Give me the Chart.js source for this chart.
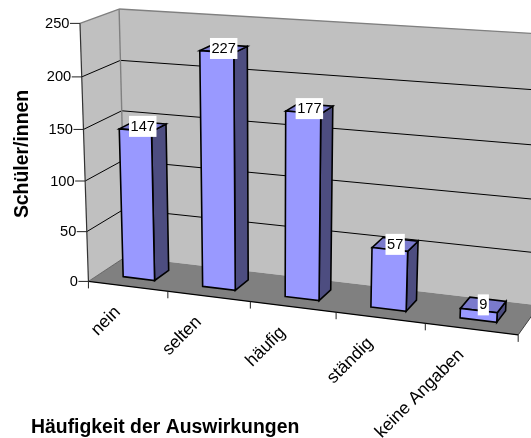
<!DOCTYPE html>
<html><head><meta charset="utf-8">
<style>html,body{margin:0;padding:0;background:#fff}canvas{display:block}</style>
<script src="https://cdn.jsdelivr.net/npm/chart.js@4"></script>
</head><body><canvas id="c" width="531" height="438"></canvas>
<script>
const categories = ["nein","selten","häufig","ständig","keine Angaben"];
const values = [147,227,177,57,9];
const valueTicks = [0,50,100,150,200,250];
const yTitle = "Schüler/innen";
const xTitle = "Häufigkeit der Auswirkungen";

// Camera of the 3D look: [along x, up y, depth] fractions of the plot box -> picture position
const CAMERA_FIT = [
 [0,0,0,89,281],[1,0,0,518,336],[0,1,0,79,23],
 [0,0,1,124,258],[1,0,1,539.5,304],[0,1,1,120,9],[1,1,1,552.5,35],
 [0.06,0,0.3,124,276],[0.46,0,0.3,285,296.7],[0.46,0.708,0.3,285,111],[0.06,0.588,0.3,120,129]
];
const DEPTH_FRONT = 0.3, DEPTH_BACK = 0.7;
function solveCamera(pts){
  const n=11,A=Array.from({length:n},()=>new Array(n+1).fill(0));
  const add=(r,b)=>{for(let i=0;i<n;i++){for(let j=0;j<n;j++)A[i][j]+=r[i]*r[j];A[i][n]+=r[i]*b;}};
  pts.forEach(([u,v,w,x,y])=>{x/=500;y/=500;
    add([u,v,w,1,0,0,0,0,-x*u,-x*v,-x*w],x);
    add([0,0,0,0,u,v,w,1,-y*u,-y*v,-y*w],y);});
  for(let c=0;c<n;c++){let p=c;for(let r=c+1;r<n;r++)if(Math.abs(A[r][c])>Math.abs(A[p][c]))p=r;
    [A[c],A[p]]=[A[p],A[c]];
    for(let r=0;r<n;r++)if(r!==c){const f=A[r][c]/A[c][c];for(let k=c;k<=n;k++)A[r][k]-=f*A[c][k];}}
  return A.map((r,i)=>r[n]/r[i]);
}
const M=solveCamera(CAMERA_FIT);
function P(u,v,w){const d=M[8]*u+M[9]*v+M[10]*w+1;
  return [500*(M[0]*u+M[1]*v+M[2]*w+M[3])/d,500*(M[4]*u+M[5]*v+M[6]*w+M[7])/d];}
function poly(ctx,pts,fill,stroke,lw){ctx.beginPath();pts.forEach((p,i)=>i?ctx.lineTo(p[0],p[1]):ctx.moveTo(p[0],p[1]));ctx.closePath();
  if(fill){ctx.fillStyle=fill;ctx.fill();}
  if(stroke){ctx.strokeStyle=stroke;ctx.lineWidth=lw;ctx.lineJoin='miter';ctx.stroke();}}
function seg(ctx,a,b,c,lw){ctx.beginPath();ctx.moveTo(a[0],a[1]);ctx.lineTo(b[0],b[1]);ctx.strokeStyle=c;ctx.lineWidth=lw;ctx.stroke();}
const fracV=(s,px)=>(s.bottom-px)/(s.bottom-s.top);
const fracU=(s,px)=>(px-s.left)/(s.right-s.left);

const box3d={id:'box3d',
 beforeDatasetsDraw(ch){
  const ctx=ch.ctx,ys=ch.scales.y;
  ctx.save();
  poly(ctx,[P(0,0,1),P(1,0,1),P(1,1,1),P(0,1,1)],'#C0C0C0');
  poly(ctx,[P(0,0,0),P(0,0,1),P(0,1,1),P(0,1,0)],'#C0C0C0');
  poly(ctx,[P(0,0,0),P(1,0,0),P(1,0,1),P(0,0,1)],'#808080');
  valueTicks.forEach(t=>{const v=fracV(ys,ys.getPixelForValue(t));if(t===0)return;
    const col=t===250?'#808080':'#000';const lw=t===250?1.4:1;
    seg(ctx,P(0,v,0),P(0,v,1),col,lw);seg(ctx,P(0,v,1),P(1,v,1),col,lw);});
  seg(ctx,P(0,0,1),P(0,1,1),'#808080',1.4);
  seg(ctx,P(1,0,0),P(1,0,1),'#404040',1);
  seg(ctx,P(0,0,0),P(0,1,0),'#333',1.2);
  seg(ctx,P(0,0,0),P(1,0,0),'#000',1.2);
  seg(ctx,P(0,0,0),P(0,0,1),'#555',0.8);
  // value axis ticks and labels
  ctx.font='14.67px "Liberation Sans"';ctx.fillStyle='#000';ctx.textAlign='right';ctx.textBaseline='middle';
  valueTicks.forEach(t=>{const v=fracV(ys,ys.getPixelForValue(t));const p=P(0,v,0);
    seg(ctx,[p[0]-10,p[1]],p,'#222',1);
    ctx.fillStyle='#000';ctx.fillText(String(t),p[0]-10.5,p[1]+0.5);});
  // category axis ticks and labels
  categories.forEach((_,i)=>{const p=P(i/categories.length,0,0);seg(ctx,p,[p[0],p[1]+7],'#222',1);});
  const e=P(1,0,0);seg(ctx,e,[e[0],e[1]+7],'#222',1);
  const xs=ch.scales.x;
  ctx.font='17.6px "Liberation Sans"';
  categories.forEach((c,i)=>{const p=P(fracU(xs,xs.getPixelForValue(i)),0,0);
    ctx.save();ctx.translate(p[0]-10,p[1]+23);ctx.rotate(-Math.PI/4);ctx.textAlign='right';ctx.textBaseline='middle';
    ctx.fillStyle='#000';ctx.fillText(c,0,0);ctx.restore();});
  // axis titles
  ctx.font='bold 19.4px "Liberation Sans"';ctx.textBaseline='middle';
  ctx.save();ctx.translate(22.5,154);ctx.rotate(-Math.PI/2);ctx.textAlign='center';ctx.fillText(yTitle,0,0);ctx.restore();
  ctx.textAlign='left';ctx.fillText(xTitle,31,428);
  ctx.restore();
 },
 afterDatasetsDraw(ch){
  const ctx=ch.ctx,xs=ch.scales.x,ys=ch.scales.y,bars=ch.getDatasetMeta(0).data;
  ctx.save();
  const lw=1.6,f=DEPTH_FRONT,b=DEPTH_BACK;
  bars.forEach(el=>{
    const u0=fracU(xs,el.x-el.width/2),u1=fracU(xs,el.x+el.width/2),v1=fracV(ys,el.y),v0=fracV(ys,el.base);
    poly(ctx,[P(u1,v0,f),P(u1,v0,b),P(u1,v1,b),P(u1,v1,f)],'#4D4D80','#000',lw);
    poly(ctx,[P(u0,v1,f),P(u1,v1,f),P(u1,v1,b),P(u0,v1,b)],'#7A7ACC','#000',lw);
    poly(ctx,[P(u0,v0,f),P(u1,v0,f),P(u1,v1,f),P(u0,v1,f)],'#9999FF','#000',lw);
  });
  ctx.font='14.67px "Liberation Sans"';ctx.textAlign='center';ctx.textBaseline='middle';
  bars.forEach((el,i)=>{
    const u=fracU(xs,el.x),v=fracV(ys,el.y),p=P(u,v,(f+b)/2),s=String(values[i]);
    const w=ctx.measureText(s).width+3,h=21;
    ctx.fillStyle='#fff';ctx.fillRect(p[0]-w/2,p[1]-h/2,w,h);
    ctx.fillStyle='#000';ctx.fillText(s,p[0],p[1]+0.5);
  });
  ctx.restore();
 }};

new Chart(document.getElementById('c'),{
 type:'bar',
 data:{labels:categories,datasets:[{data:values,backgroundColor:'rgba(0,0,0,0)',borderWidth:0,barPercentage:0.4,categoryPercentage:1}]},
 options:{responsive:false,animation:false,
  layout:{padding:0},
  plugins:{legend:{display:false},tooltip:{enabled:false},title:{display:false}},
  scales:{x:{display:false,offset:true},y:{display:false,min:0,max:250,ticks:{stepSize:50}}}},
 plugins:[box3d]});
</script></body></html>
